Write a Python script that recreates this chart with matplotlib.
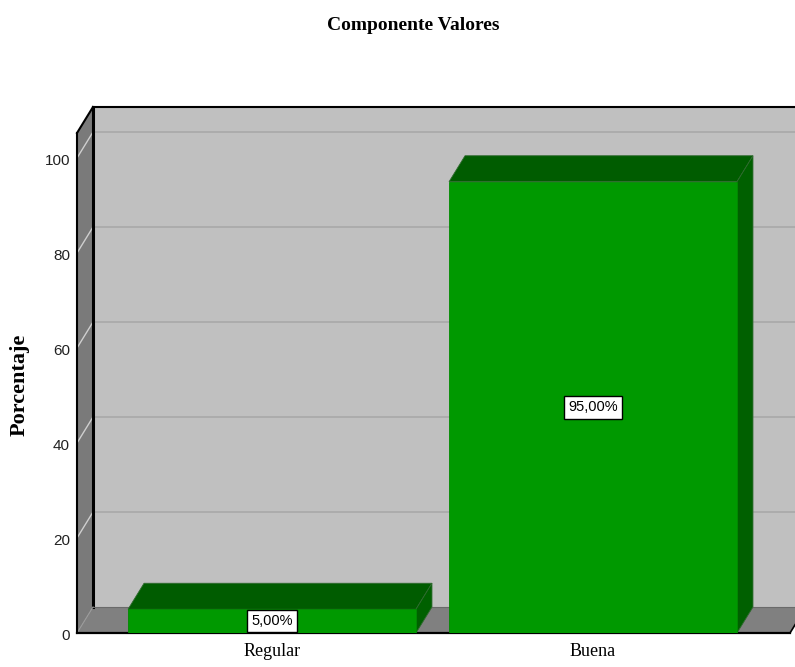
import matplotlib
matplotlib.use("Agg")
import matplotlib.pyplot as plt
from matplotlib.patches import Polygon
from matplotlib.transforms import IdentityTransform
import numpy as np

categories = ["Regular", "Buena"]
porcentaje = [5.0, 95.0]
etiquetas = ["5,00%", "95,00%"]
yticks = [0, 20, 40, 60, 80, 100]

narrow = ["Liberation Sans Narrow", "Liberation Sans", "DejaVu Sans"]
serif = ["Liberation Serif", "DejaVu Serif"]

fig = plt.figure(figsize=(7.95, 6.67), dpi=100)
ax = fig.add_axes([77 / 795, 34 / 667, 713 / 795, 500 / 667])
ax.set_xlim(-0.6075, 1.6137)
ax.set_ylim(0, 105.26)
ax.axis("off")

# profundidad del efecto 3D (pixeles)
DX, DY = 16, 26
x0, x1 = ax.get_xlim()
ytop = ax.get_ylim()[1]


def pt(x, y, back=False):
    px, py = ax.transData.transform((x, y))
    if back:
        px, py = px + DX, py + DY
    return (px, py)


def poly(points, fc, ec="none", lw=0.8, z=1):
    ax.add_patch(Polygon(points, closed=True, facecolor=fc, edgecolor=ec,
                         linewidth=lw, transform=IdentityTransform(), zorder=z,
                         clip_on=False))


# pared del fondo
poly([pt(x0, 0, True), pt(x0, ytop, True), pt(x1, ytop, True), pt(x1, 0, True)],
     "#c0c0c0", z=1)
for v in yticks[1:]:
    a, b = pt(x0, v, True), pt(x1, v, True)
    ax.plot([a[0], b[0]], [a[1], b[1]], color="#a9a9a9", lw=1.2,
            transform=IdentityTransform(), zorder=2, clip_on=False)

# pared izquierda
poly([pt(x0, 0), pt(x0, ytop), pt(x0, ytop, True), pt(x0, 0, True)],
     "#7a7a7a", z=3)
for v in yticks[1:]:
    a, b = pt(x0, v), pt(x0, v, True)
    ax.plot([a[0], b[0]], [a[1], b[1]], color="#cfcfcf", lw=1.0,
            transform=IdentityTransform(), zorder=4, clip_on=False)

# piso
poly([pt(x0, 0), pt(x1, 0), pt(x1, 0, True), pt(x0, 0, True)], "#808080", z=3)

# bordes
def line(a, b, color="black", lw=1.5, z=6):
    ax.plot([a[0], b[0]], [a[1], b[1]], color=color, lw=lw,
            transform=IdentityTransform(), zorder=z, clip_on=False,
            solid_capstyle="projecting")

line(pt(x0, 0), pt(x0, ytop))
line(pt(x0, ytop), pt(x0, ytop, True))
line(pt(x0, ytop, True), pt(x1, ytop, True))
line(pt(x0, ytop, True), pt(x0, 0, True), lw=2.2, z=4)
line(pt(x0, 0), pt(x1, 0), lw=1.6)
line(pt(x1, 0), pt(x1, 0, True), lw=1.2)
line(pt(x0, 0, True), pt(x1, 0, True), color="#6a6a6a", lw=0.8, z=4)
line(pt(x0, 0), pt(x0, 0, True), color="#9a9a9a", lw=0.8, z=4)

# barras
xpos = np.arange(len(categories))
width = 0.897
bars = ax.bar(xpos, porcentaje, width=width, color="#009900",
              edgecolor="#008a00", linewidth=0.6, zorder=8)
for xc, h, txt in zip(xpos, porcentaje, etiquetas):
    l, r = xc - width / 2, xc + width / 2
    poly([pt(l, h), pt(r, h), pt(r, h, True), pt(l, h, True)],
         "#005c00", ec="#2f6a2f", lw=0.6, z=7)
    poly([pt(r, 0), pt(r, h), pt(r, h, True), pt(r, 0, True)],
         "#006000", ec="#2f6a2f", lw=0.6, z=7)
    ax.text(xc, h / 2, txt, ha="center", va="center", fontsize=10.5,
            family=narrow, zorder=10,
            bbox=dict(boxstyle="square,pad=0.3", fc="white", ec="black", lw=1))

# etiquetas del eje y
for v in yticks:
    ax.text(x0 - 0.022, v - 0.6, str(v), ha="right", va="center", fontsize=11,
            family=narrow, color="#222222")

# etiquetas de categoria
for xc, c in zip(xpos, categories):
    ax.text(xc, -2.0, c, ha="center", va="top", fontsize=13, family=serif)

fig.text(20 / 795, 1 - 385 / 667, "Porcentaje", rotation=90, ha="center",
         va="center", fontsize=16, fontweight="bold", family=serif)
fig.text(413 / 795, 1 - 25 / 667, "Componente Valores", ha="center",
         va="center", fontsize=14, fontweight="bold", family=serif)

fig.savefig("out.png", dpi=100)
